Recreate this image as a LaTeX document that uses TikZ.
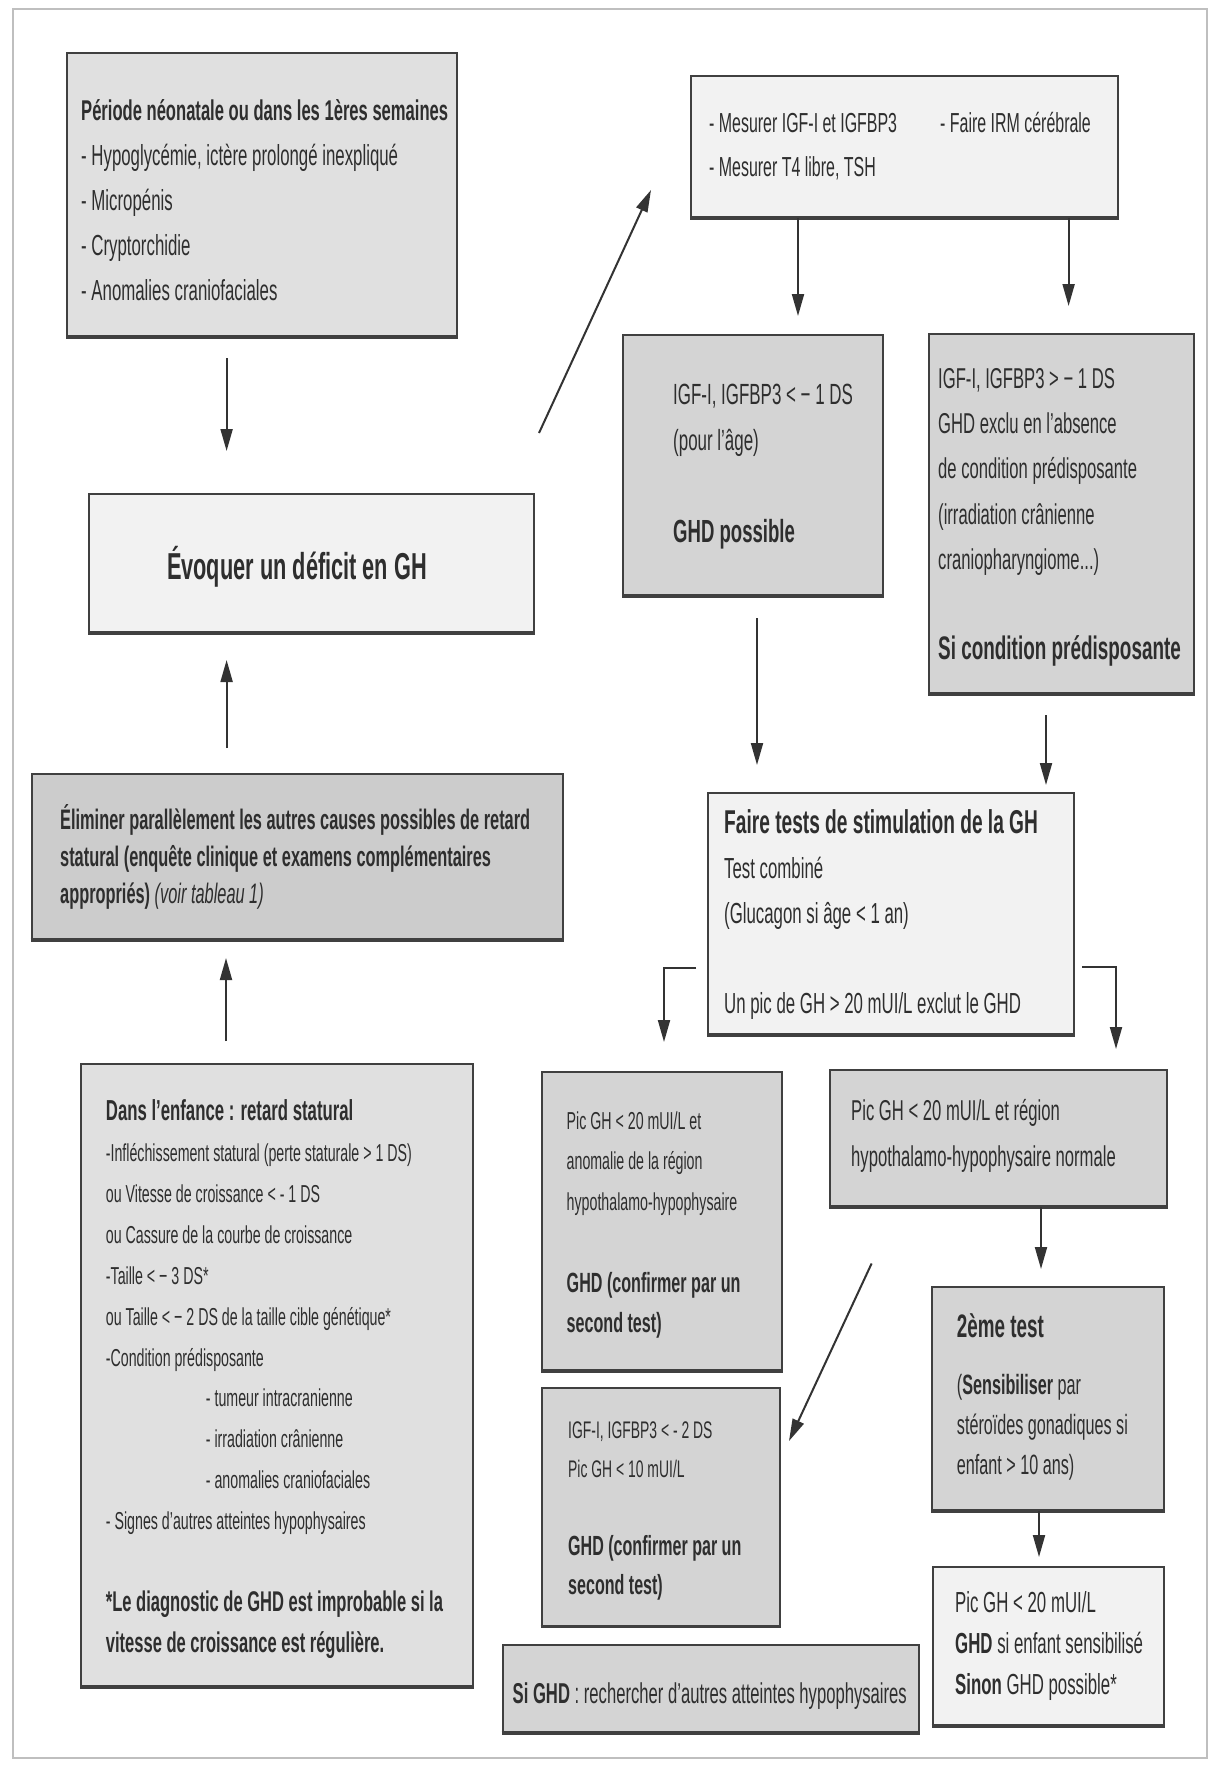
\documentclass[tikz,border=0pt]{standalone}
\usepackage{fontspec}
\setmainfont{Liberation Sans}[FakeStretch=0.58]
\usetikzlibrary{arrows.meta}
\newcommand\myfs[2]{\fontsize{#1}{#2}\selectfont}
\definecolor{gLight}{gray}{0.95}
\definecolor{gMid}{gray}{0.88}
\definecolor{gDark}{gray}{0.83}
\definecolor{gDarker}{gray}{0.80}
\definecolor{bdr}{gray}{0.25}
\definecolor{arrc}{gray}{0.2}
\definecolor{txtc}{gray}{0.18}
\begin{document}
\begin{tikzpicture}[x=1pt,y=-1pt,
  box/.style={draw=bdr, line width=2pt, inner sep=0pt},
  txt/.style={inner sep=0pt, align=left, anchor=west, text=txtc},
  arr/.style={draw=arrc, line width=2pt, -{Triangle[length=22pt,width=12pt]}},
]
\fill[white] (0,0) rectangle (1215,1770);
\useasboundingbox (0,0) rectangle (1215,1770);
\draw[black!25, line width=1.2pt] (13,9) rectangle (1207,1758);

% boxes
\node[box, fill=gMid,  minimum width=390pt, minimum height=283pt] (b1) at (262,194.5) {};
\node[box, fill=gLight,minimum width=427pt, minimum height=141pt] (b2) at (904.5,146.5) {};
\node[box, fill=gLight,minimum width=445pt, minimum height=138pt] (ev) at (311.5,563) {};
\node[box, fill=gDark, minimum width=260pt, minimum height=260pt] (b3) at (753,465) {};
\node[box, fill=gDark, minimum width=265pt, minimum height=359pt] (b4) at (1061.5,513.5) {};
\node[box, fill=gDarker,minimum width=531pt, minimum height=165pt] (el) at (297,856.5) {};
\node[box, fill=gMid,  minimum width=392pt, minimum height=622pt] (da) at (277,1375) {};
\node[box, fill=gLight,minimum width=366pt, minimum height=241pt] (ft) at (891,913.5) {};
\node[box, fill=gDark, minimum width=239.5pt, minimum height=298pt] (pa) at (661.75,1221) {};
\node[box, fill=gDark, minimum width=337pt, minimum height=136pt] (pn) at (998.5,1138) {};
\node[box, fill=gDark, minimum width=231.5pt, minimum height=223pt] (t2) at (1048,1398.5) {};
\node[box, fill=gDark, minimum width=238pt, minimum height=237.5pt] (ig) at (660.5,1506.75) {};
\node[box, fill=gDark, minimum width=416.5pt, minimum height=87pt] (sg) at (710.75,1688.5) {};
\node[box, fill=gLight,minimum width=231pt, minimum height=158pt] (fi) at (1048,1646) {};
\foreach \n in {b1,b2,ev,b3,b4,el,da,ft,pa,pn,t2,ig,sg,fi}
  \draw[bdr, line width=3.5pt] (\n.south west) -- (\n.south east);

% texts
\node[txt, font=\myfs{29}{45}] (tx1) at ([xshift=15pt,yshift=-6pt]b1.west)
 {{\myfs{28.6}{45}\bfseries Période néonatale ou dans les 1ères semaines}\\
  - Hypoglycémie, ictère prolongé inexpliqué\\
  - Micropénis\\
  - Cryptorchidie\\
  - Anomalies craniofaciales};
\node[txt, font=\myfs{27.5}{44}] (tx2) at ([xshift=19pt]b2.west)
 {\makebox[231pt][l]{- Mesurer IGF-I et IGFBP3}- Faire IRM cérébrale\\
  - Mesurer T4 libre, TSH};
\node[inner sep=0pt, text=txtc, font=\myfs{37.5}{45}\bfseries] (txev) at ([xshift=-14.5pt,yshift=-4pt]ev.center)
 {Évoquer un déficit en GH};
\node[txt, font=\myfs{29.2}{46}] (tx3) at ([xshift=51pt,yshift=-2pt]b3.west)
 {IGF-I, IGFBP3 < − 1 DS\\
  (pour l'âge)\\[46pt]
  {\myfs{32}{46}\bfseries GHD possible}};
\node[txt, font=\myfs{28.7}{45.3}] (tx4) at ([xshift=10pt,yshift=-4pt]b4.west)
 {IGF-I, IGFBP3 > − 1 DS\\
  GHD exclu en l'absence\\
  de condition prédisposante\\
  (irradiation crânienne\\
  craniopharyngiome...)\\[45pt]
  {\myfs{32.6}{45}\bfseries Si condition prédisposante}};
\node[txt, font=\myfs{28.2}{37}\bfseries] (txel) at ([xshift=29.5pt,yshift=0pt]el.west)
 {Éliminer parallèlement les autres causes possibles de retard\\
  statural (enquête clinique et examens complémentaires\\
  appropriés) {\mdseries\itshape (voir tableau 1)}};
\node[txt, font=\myfs{24.5}{40.9}] (txda) at ([xshift=25.7pt,yshift=-4pt]da.west)
 {{\myfs{28.9}{40.9}\bfseries Dans l'enfance : retard statural}\\
  -Infléchissement statural (perte staturale > 1 DS)\\
  ou Vitesse de croissance < - 1 DS\\
  ou Cassure de la courbe de croissance\\
  -Taille < − 3 DS*\\
  ou Taille < − 2 DS de la taille cible génétique*\\
  -Condition prédisposante\\
  \hspace*{100pt}- tumeur intracranienne\\
  \hspace*{100pt}- irradiation crânienne\\
  \hspace*{100pt}- anomalies craniofaciales\\
  - Signes d'autres atteintes hypophysaires\\[40.9pt]
  {\myfs{28.5}{40.9}\bfseries *Le diagnostic de GHD est improbable si la}\\
  {\myfs{28.5}{40.9}\bfseries vitesse de croissance est régulière.}};
\node[txt, font=\myfs{29}{45}] (txft) at ([xshift=17pt,yshift=-1pt]ft.west)
 {{\myfs{33}{45}\bfseries Faire tests de stimulation de la GH}\\
  Test combiné\\
  (Glucagon si âge < 1 an)\\[45pt]
  Un pic de GH > 20 mUI/L exclut le GHD};
\node[txt, font=\myfs{24.5}{40.7}] (txpa) at ([xshift=25.5pt,yshift=-4pt]pa.west)
 {Pic GH < 20 mUI/L et\\
  anomalie de la région\\
  hypothalamo-hypophysaire\\[40.7pt]
  {\myfs{27.8}{40.7}\bfseries GHD (confirmer par un}\\
  {\myfs{27.8}{40.7}\bfseries second test)}};
\node[txt, font=\myfs{28.7}{45.7}] (txpn) at ([xshift=22pt,yshift=2pt]pn.west)
 {Pic GH < 20 mUI/L et région\\
  hypothalamo-hypophysaire normale};
\node[txt, font=\myfs{27.9}{40}] (txt2) at ([xshift=25.5pt,yshift=2pt]t2.west)
 {{\myfs{32.5}{40}\bfseries 2ème test}\\[17pt]
  ({\bfseries Sensibiliser} par\\
  stéroïdes gonadiques si\\
  enfant > 10 ans)};
\node[txt, font=\myfs{24}{39}] (txig) at ([xshift=27.5pt,yshift=-4pt]ig.west)
 {IGF-I, IGFBP3 < - 2 DS\\
  Pic GH < 10 mUI/L\\[39pt]
  {\myfs{27.7}{39}\bfseries GHD (confirmer par un}\\
  {\myfs{27.7}{39}\bfseries second test)}};
\node[txt, font=\myfs{28.7}{40}] (txsg) at ([xshift=11pt,yshift=-8pt]sg.west)
 {{\bfseries Si GHD} : rechercher d'autres atteintes hypophysaires};
\node[txt, font=\myfs{29}{41}] (txfi) at ([xshift=23.5pt]fi.west)
 {Pic GH < 20 mUI/L\\
  {\bfseries GHD} si enfant sensibilisé\\
  {\bfseries Sinon} GHD possible*};

% arrows
\coordinate (a1s) at (226.6,358);  \coordinate (a1e) at (226.6,451);
\coordinate (a2s) at (226.6,748);  \coordinate (a2e) at (226.6,660);
\coordinate (a3s) at (226,1041);   \coordinate (a3e) at (226,958);
\coordinate (a4s) at (539,433);    \coordinate (a4e) at (651,190);
\coordinate (a5e) at (798,316);
\coordinate (a6e) at (1068.6,306);
\coordinate (a7s) at (757,618);    \coordinate (a7e) at (757,765);
\coordinate (a8s) at (1046,715);   \coordinate (a8e) at (1046,785);
\coordinate (a9s) at (696,968);    \coordinate (a9e) at (664,1042);
\coordinate (a10s) at (1082,967);  \coordinate (a10e) at (1116,1049);
\coordinate (a11e) at (1041,1269);
\coordinate (a12s) at (871.6,1263.5); \coordinate (a12e) at (789,1441);
\coordinate (a13e) at (1039,1557);

\draw[arr] (a1s) -- (a1e);
\draw[arr] (a2s) -- (a2e);
\draw[arr] (a3s) -- (a3e);
\draw[arr] (a4s) -- (a4e);
\draw[arr] (a5e |- b2.south) -- (a5e);
\draw[arr] (a6e |- b2.south) -- (a6e);
\draw[arr] (a7s) -- (a7e);
\draw[arr] (a8s) -- (a8e);
\draw[arr] (a9s) -| (a9e);
\draw[arr] (a10s) -| (a10e);
\draw[arr] (a11e |- pn.south) -- (a11e);
\draw[arr] (a12s) -- (a12e);
\draw[arr] (a13e |- t2.south) -- (a13e);
\end{tikzpicture}
\end{document}
